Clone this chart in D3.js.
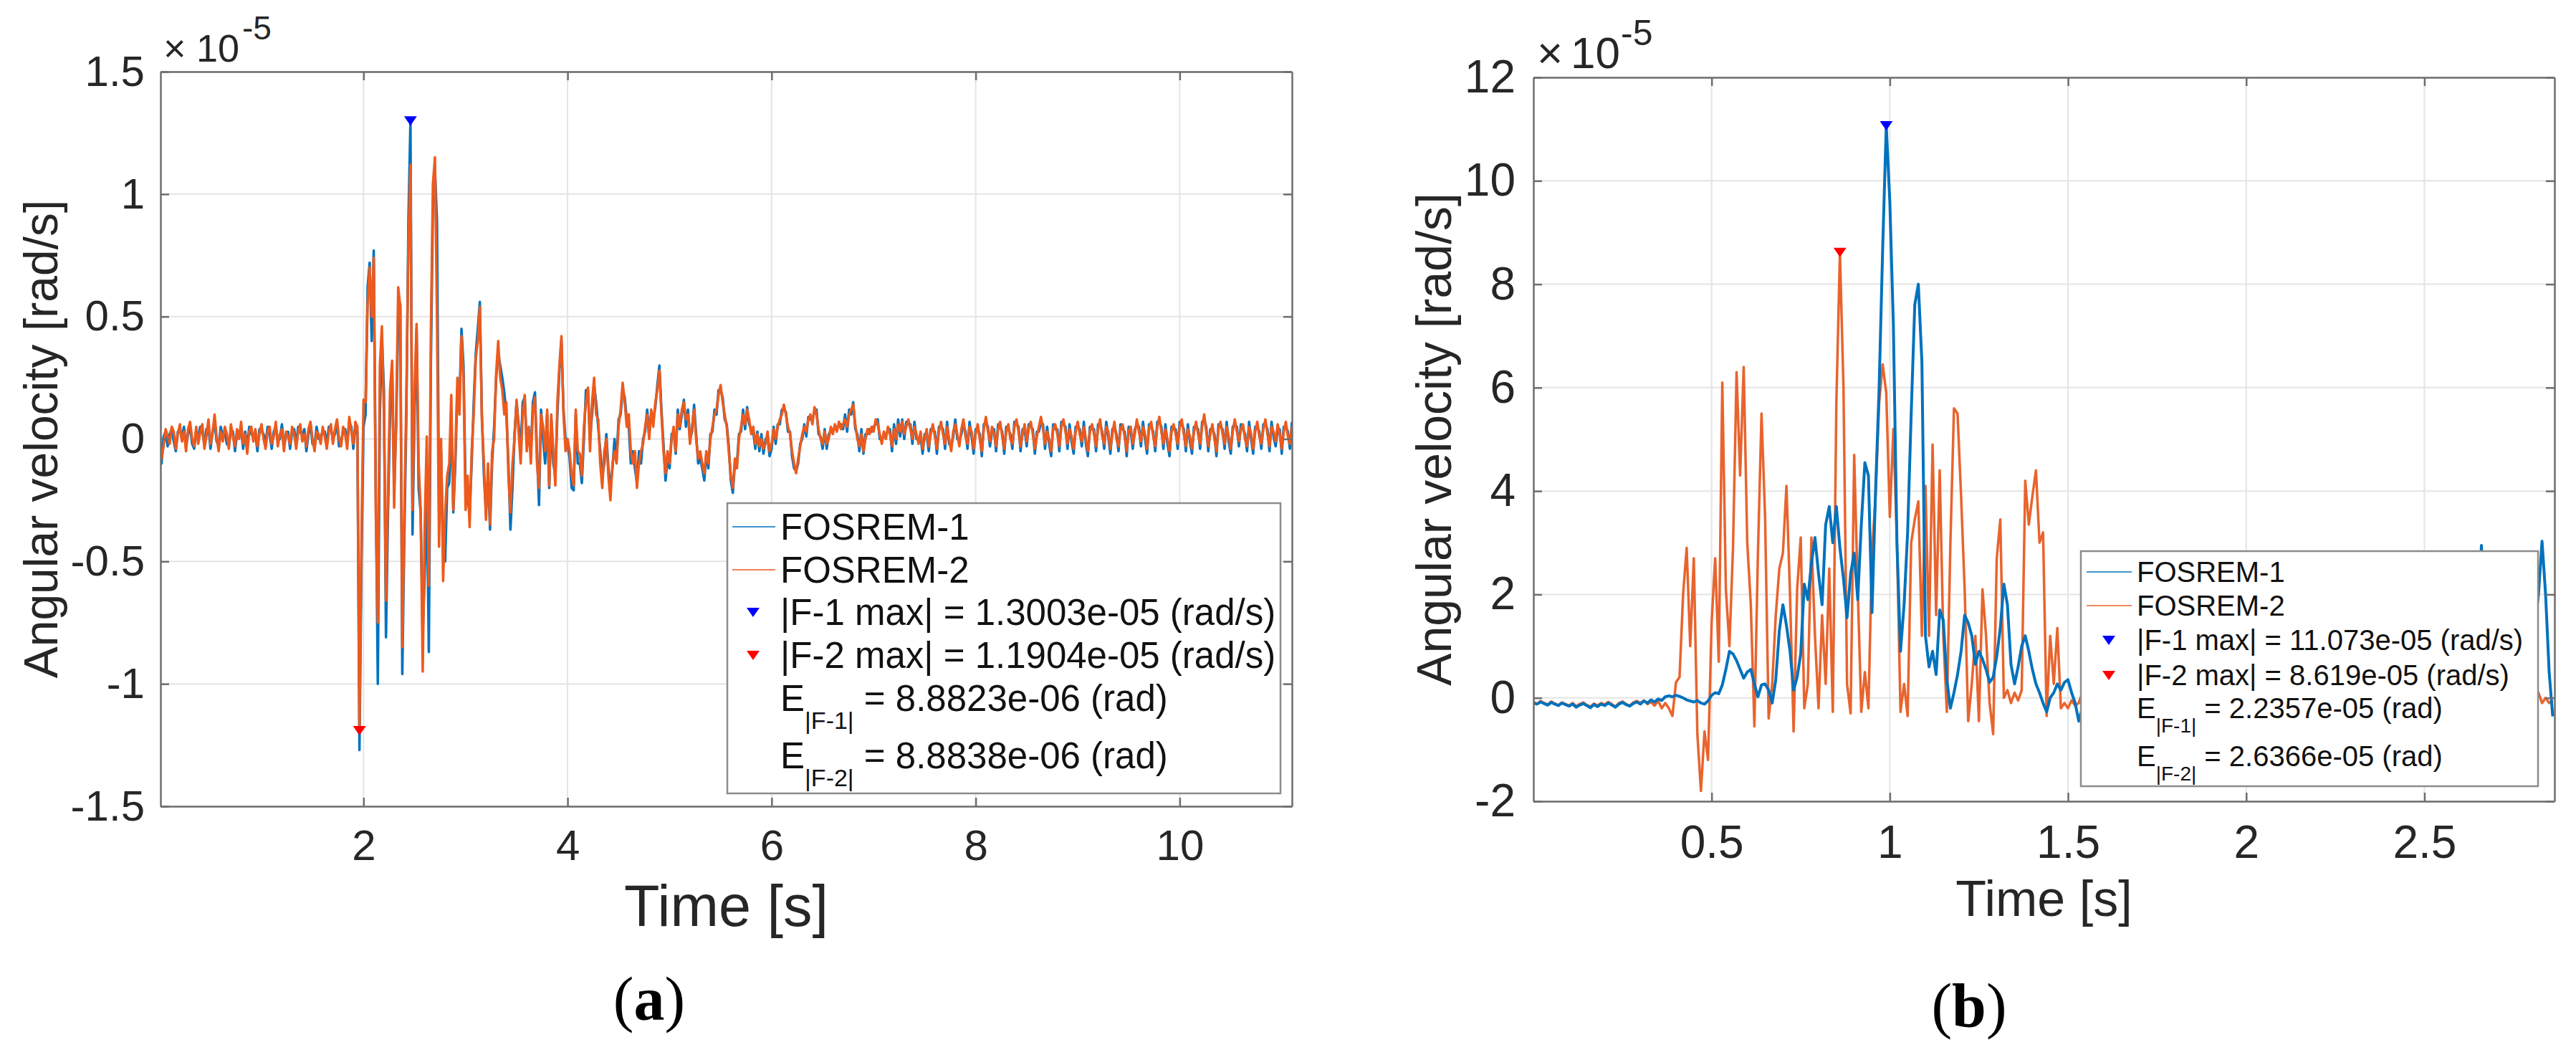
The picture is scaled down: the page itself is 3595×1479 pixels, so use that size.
<!DOCTYPE html>
<html>
<head>
<meta charset="utf-8">
<script src="https://cdn.jsdelivr.net/npm/d3@7"></script>
<style>
  html, body { margin: 0; padding: 0; background: #fff; }
  svg { display: block; font-family: "Liberation Sans", Arial, sans-serif; }
</style>
</head>
<body>
<svg id="fig" width="3595" height="1479"></svg>
<script>
// ---- digitised traces, units of 1e-5 rad/s ----
// panel (a): one sample every 0.02 s starting at t = 0
const stepA = 0.02;
const fosrem1A = [
  -0.02,-0.10,0.01,0.03,-0.03,0.02,0.04,-0.01,-0.05,0.03,
  0.04,0.00,0.05,-0.03,0.02,0.05,-0.02,-0.04,0.03,0.01,
  0.05,0.03,-0.02,0.04,0.05,-0.04,0.03,0.07,-0.01,-0.03,
  0.05,0.01,0.03,-0.02,-0.03,0.04,0.03,-0.05,0.02,0.03,
  0.04,-0.04,0.03,-0.03,0.05,0.02,0.01,0.02,-0.05,0.04,
  0.03,0.02,-0.02,0.05,0.02,-0.04,0.03,0.05,-0.01,0.00,
  0.06,-0.03,0.01,0.03,-0.04,0.03,0.04,-0.02,0.05,0.03,
  0.01,0.04,-0.05,0.02,0.06,-0.02,-0.03,0.05,0.00,0.01,
  0.03,0.03,-0.02,0.05,0.04,0.00,0.02,0.07,-0.03,-0.01,
  0.03,0.04,-0.02,0.07,0.05,-0.04,
  0.05,0.03,-1.27,-0.50,
  0.05,0.10,0.62,0.72,0.40,0.77,-0.20,-1.00,0.10,0.42,
  0.20,-0.81,-0.30,0.10,0.30,-0.20,0.05,0.50,0.55,-0.96,
  -0.40,0.10,0.90,1.30,-0.39,0.10,0.45,-0.20,-0.30,-0.80,
  -0.55,-0.20,-0.87,0.30,0.95,1.10,0.89,-0.30,-0.05,-0.45,
  -0.50,-0.20,-0.18,0.10,-0.30,-0.10,0.20,0.15,0.45,0.30,
  -0.20,-0.25,-0.30,-0.10,0.15,0.35,0.45,0.56,0.10,-0.15,
  -0.30,-0.15,-0.37,-0.10,0.05,0.25,0.35,0.30,0.25,0.19,
  0.10,-0.10,-0.37,-0.20,0.02,0.15,0.06,-0.05,0.15,0.17,
  -0.02,0.00,-0.05,0.15,0.19,-0.05,-0.27,0.12,0.00,-0.10,
  0.10,-0.20,0.08,-0.10,-0.15,0.10,0.28,0.40,0.12,0.00,
  -0.02,-0.08,-0.20,-0.21,0.10,-0.10,-0.10,-0.18,0.00,0.20,
  0.20,0.00,0.10,0.22,0.15,0.05,-0.05,-0.15,-0.10,0.02,
  -0.12,-0.20,-0.12,0.00,-0.08,0.08,0.10,0.20,0.17,0.08,
  0.05,-0.10,-0.05,-0.12,-0.18,-0.05,-0.10,0.00,0.03,0.12,
  0.02,0.10,0.08,0.13,0.22,0.30,0.12,-0.02,-0.17,-0.08,
  -0.12,0.02,0.03,-0.06,0.12,0.04,0.10,0.16,0.05,0.12,
  0.00,0.03,0.14,0.02,-0.10,-0.08,-0.12,-0.17,-0.06,-0.12,
  0.02,0.03,0.12,0.10,0.20,0.20,0.17,0.08,0.06,-0.03,
  -0.17,-0.22,-0.10,-0.10,0.02,0.03,0.12,0.04,0.13,0.06,
  0.04,0.03,-0.04,0.03,-0.05,0.02,-0.06,0.00,0.01,-0.07,
  -0.04,0.05,-0.02,0.06,0.06,0.12,0.12,0.11,0.03,0.03,
  -0.07,-0.12,-0.13,-0.10,-0.02,0.00,0.06,0.01,0.09,0.08,
  0.08,0.11,0.12,0.02,0.01,-0.04,0.04,-0.04,0.02,0.03,
  0.04,0.04,0.05,0.05,0.06,0.04,0.10,0.03,0.12,0.10,
  0.15,0.04,0.02,-0.05,0.04,-0.06,0.02,0.02,0.04,0.03,
  0.05,0.06,0.08,0.00,0.00,0.01,0.02,0.03,0.04,-0.05,
  0.06,-0.02,0.08,0.01,0.08,0.00,0.07,0.06,0.06,-0.02,
  0.07,0.00,0.00,0.01,-0.06,0.02,0.02,-0.05,0.04,0.04,
  0.03,-0.06,0.05,0.05,0.04,-0.04,0.07,-0.02,-0.03,0.01,
  0.08,0.00,-0.01,0.02,0.06,0.03,-0.04,0.07,0.01,-0.06,
  0.04,0.04,0.02,-0.07,0.06,0.07,0.05,-0.03,0.03,0.04,
  -0.05,0.06,0.05,0.03,-0.06,0.05,0.04,0.02,-0.04,0.07,
  0.06,0.05,-0.05,0.04,0.04,-0.03,0.06,0.05,0.04,-0.06,
  0.03,0.03,0.07,0.06,-0.04,0.05,-0.02,-0.07,0.06,0.04,
  0.04,-0.05,0.07,0.06,0.05,-0.04,0.06,-0.01,-0.06,0.05,
  0.05,0.04,-0.03,0.07,-0.02,-0.07,0.05,0.04,0.04,-0.05,
  0.06,0.06,0.03,-0.04,0.07,0.01,-0.06,0.04,0.05,0.02,
  -0.05,0.06,0.04,0.03,-0.07,0.05,0.03,-0.04,0.04,0.06,
  0.05,-0.03,0.07,0.00,-0.06,0.06,0.05,0.03,-0.05,0.07,
  0.07,0.05,-0.04,0.06,-0.02,-0.07,0.05,0.04,0.04,-0.04,
  0.07,0.06,0.04,-0.05,0.06,-0.01,-0.06,0.05,0.05,0.04,
  -0.04,0.07,0.08,0.05,-0.05,0.04,0.04,0.02,-0.07,0.06,
  0.05,0.04,-0.04,0.07,-0.01,-0.06,0.05,0.06,0.05,-0.03,
  0.06,0.04,0.02,-0.05,0.07,0.00,-0.06,0.05,0.05,0.03,
  -0.04,0.06,0.06,0.04,-0.05,0.07,0.01,-0.03,0.04,0.04,
  -0.06,0.05,0.05,0.03,-0.04,0.07
];
const fosrem2A = [
  0.02,-0.08,-0.03,0.04,0.01,-0.02,0.05,0.03,-0.04,0.02,
  0.06,-0.01,0.03,-0.05,0.04,0.07,0.00,-0.03,0.05,-0.02,
  0.03,0.06,-0.04,0.01,0.08,-0.02,0.02,0.10,0.01,-0.05,
  0.03,-0.01,0.05,0.02,-0.04,0.06,0.01,-0.03,0.04,0.00,
  0.07,-0.02,0.02,-0.06,0.03,0.05,-0.01,0.04,-0.03,0.02,
  0.06,0.00,-0.04,0.03,0.05,-0.02,0.01,0.07,-0.03,0.02,
  0.04,-0.05,0.03,0.01,-0.02,0.05,0.02,-0.04,0.03,0.06,
  -0.01,0.02,-0.03,0.04,0.07,0.00,-0.05,0.03,0.02,-0.02,
  0.05,0.01,-0.04,0.03,0.06,-0.02,0.04,0.08,0.00,-0.03,
  0.05,0.02,-0.04,0.09,0.03,-0.02,
  0.07,0.05,-1.19,-0.40,
  0.16,0.15,0.55,0.70,0.50,0.74,-0.30,-0.75,0.30,0.46,
  0.10,-0.66,-0.20,0.20,0.32,-0.28,0.10,0.62,0.54,-0.85,
  -0.30,0.18,0.80,1.12,-0.29,0.20,0.47,-0.10,-0.29,-0.95,
  -0.35,0.01,-0.60,0.43,1.04,1.15,0.50,-0.44,0.00,-0.58,
  -0.30,-0.15,-0.10,0.18,-0.29,-0.05,0.25,0.10,0.42,0.25,
  -0.29,-0.15,-0.36,-0.05,0.10,0.33,0.40,0.54,0.08,-0.10,
  -0.33,-0.10,-0.35,-0.05,0.00,0.27,0.40,0.25,0.20,0.10,
  0.15,-0.15,-0.30,-0.10,0.00,0.16,0.03,-0.10,0.10,0.18,
  -0.05,0.05,-0.10,0.12,0.17,-0.10,-0.20,0.10,0.05,-0.05,
  0.12,-0.19,0.10,-0.05,-0.19,0.15,0.30,0.42,0.10,-0.05,
  0.00,-0.05,-0.15,-0.19,0.12,-0.05,-0.06,-0.15,0.05,0.15,
  0.21,-0.05,0.15,0.25,0.10,0.08,-0.10,-0.20,-0.05,0.00,
  -0.15,-0.25,-0.10,-0.05,-0.10,0.05,0.12,0.23,0.15,0.05,
  0.10,-0.05,-0.10,-0.05,-0.20,-0.10,-0.05,-0.02,0.05,0.10,
  0.00,0.12,0.05,0.15,0.20,0.28,0.10,-0.05,-0.14,-0.05,
  -0.10,0.00,0.05,-0.05,0.10,0.05,0.12,0.15,0.08,0.10,
  -0.02,0.05,0.12,0.00,-0.08,-0.05,-0.10,-0.14,-0.05,-0.10,
  0.00,0.05,0.10,0.12,0.18,0.22,0.15,0.10,0.05,-0.05,
  -0.15,-0.20,-0.08,-0.12,0.00,0.05,0.10,0.06,0.12,0.08,
  0.02,0.05,-0.02,0.02,-0.03,0.00,-0.04,-0.02,0.03,-0.05,
  -0.02,0.04,0.00,0.05,0.08,0.10,0.14,0.10,0.05,0.02,
  -0.05,-0.10,-0.14,-0.08,-0.03,0.02,0.05,0.03,0.08,0.10,
  0.06,0.13,0.10,0.04,0.00,-0.02,0.03,-0.02,0.00,0.05,
  0.02,0.06,0.03,0.07,0.04,0.06,0.08,0.05,0.10,0.12,
  0.14,0.06,0.00,-0.03,0.02,-0.05,0.00,0.04,0.02,0.05,
  0.03,0.08,0.06,0.02,-0.02,0.03,0.00,0.05,0.02,-0.03,
  0.04,0.00,0.06,0.03,0.07,0.02,0.05,0.08,0.04,0.00,
  0.05,0.02,-0.02,0.03,-0.04,0.00,0.04,-0.03,0.02,0.06,
  0.01,-0.04,0.03,0.07,0.02,-0.02,0.05,0.00,-0.05,0.03,
  0.06,0.02,-0.03,0.04,0.08,0.01,-0.02,0.05,0.03,-0.04,
  0.02,0.06,0.00,-0.05,0.04,0.09,0.03,-0.01,0.05,0.02,
  -0.03,0.04,0.07,0.01,-0.04,0.03,0.06,0.00,-0.02,0.05,
  0.08,0.03,-0.03,0.02,0.06,-0.01,0.04,0.07,0.02,-0.04,
  0.01,0.05,0.09,0.04,-0.02,0.03,0.00,-0.05,0.04,0.06,
  0.02,-0.03,0.05,0.08,0.03,-0.02,0.04,0.01,-0.04,0.03,
  0.07,0.02,-0.01,0.05,0.00,-0.05,0.03,0.06,0.02,-0.03,
  0.04,0.08,0.01,-0.02,0.05,0.03,-0.04,0.02,0.07,0.00,
  -0.03,0.04,0.06,0.01,-0.05,0.03,0.05,-0.02,0.02,0.08,
  0.03,-0.01,0.05,0.02,-0.04,0.04,0.07,0.01,-0.03,0.05,
  0.09,0.03,-0.02,0.04,0.00,-0.05,0.03,0.06,0.02,-0.02,
  0.05,0.08,0.02,-0.03,0.04,0.01,-0.04,0.03,0.07,0.02,
  -0.02,0.05,0.10,0.03,-0.03,0.02,0.06,0.00,-0.05,0.04,
  0.07,0.02,-0.02,0.05,0.01,-0.04,0.03,0.08,0.03,-0.01,
  0.04,0.06,0.00,-0.03,0.05,0.02,-0.04,0.03,0.07,0.01,
  -0.02,0.04,0.08,0.02,-0.03,0.05,0.03,-0.01,0.06,0.02,
  -0.04,0.03,0.07,0.01,-0.02,0.05
];

// panel (b): one sample every 0.01 s starting at t = 0
const stepB = 0.01;
const fosrem1B = [
  -0.10,-0.12,-0.08,-0.11,-0.14,-0.09,-0.12,-0.15,-0.10,-0.13,
  -0.16,-0.12,-0.18,-0.14,-0.11,-0.15,-0.19,-0.13,-0.17,-0.12,
  -0.15,-0.10,-0.14,-0.18,-0.12,-0.09,-0.13,-0.16,-0.11,-0.08,
  -0.12,-0.06,-0.10,-0.04,-0.08,-0.02,-0.05,0.02,0.04,0.02,
  0.05,0.03,0.00,-0.04,-0.06,-0.08,-0.05,-0.10,-0.12,-0.06,
  0.05,0.10,0.08,0.25,0.55,0.90,0.85,0.72,0.55,0.38,
  0.50,0.55,0.27,0.02,0.25,0.27,0.15,-0.10,0.35,1.30,
  1.80,1.40,0.90,0.15,0.40,0.85,2.20,1.90,2.60,3.10,
  2.40,1.80,3.35,3.70,3.00,3.70,2.90,2.30,1.55,2.40,
  2.80,1.90,3.35,4.55,4.30,1.65,4.00,6.00,8.70,11.07,
  9.60,7.20,3.00,0.90,1.80,3.20,5.50,7.60,8.00,6.50,
  1.20,0.60,0.90,0.45,1.70,1.50,0.35,-0.20,0.10,0.45,
  0.90,1.60,1.45,1.20,0.65,0.90,0.75,0.55,0.30,0.40,
  0.80,1.35,2.20,1.80,0.65,0.27,0.60,1.00,1.20,0.90,
  0.55,0.27,0.10,-0.10,-0.27,0.00,0.10,0.27,0.15,0.30,
  0.35,0.10,-0.10,-0.45,-0.20,0.10,0.30,0.20,0.45,0.35,
  0.60,0.40,0.25,0.50,0.70,0.45,0.30,0.55,0.80,0.60,
  0.40,0.20,0.35,0.50,0.30,0.15,0.25,0.40,0.20,0.10,
  0.30,0.45,0.25,0.35,0.55,0.40,0.20,0.30,0.15,0.25,
  0.40,0.30,0.10,0.20,0.35,0.25,0.10,0.20,0.30,0.15,
  0.05,0.20,0.30,0.15,0.25,0.10,0.20,0.35,0.20,0.10,
  0.15,0.30,0.20,0.05,0.15,0.25,0.10,0.20,0.30,0.15,
  0.25,0.40,0.20,0.10,0.30,0.50,0.35,0.20,0.40,0.60,
  0.45,0.30,0.55,0.40,0.25,0.45,0.60,0.35,0.20,0.40,
  0.55,0.30,0.45,0.70,0.50,0.35,0.60,0.80,0.55,0.40,
  0.65,0.90,0.60,0.45,0.75,1.00,0.70,0.50,0.80,1.10,
  0.85,0.60,0.90,1.20,0.80,1.50,2.95,1.20,0.70,0.90,
  0.60,0.40,0.70,0.50,0.30,0.60,0.80,0.50,0.35,0.60,
  0.90,1.40,2.00,3.03,2.00,0.50,-0.36
];
const fosrem2B = [
  -0.08,-0.12,-0.06,-0.10,-0.13,-0.07,-0.11,-0.14,-0.09,-0.12,
  -0.15,-0.10,-0.16,-0.12,-0.09,-0.14,-0.17,-0.11,-0.15,-0.10,
  -0.13,-0.08,-0.12,-0.17,-0.10,-0.07,-0.12,-0.15,-0.09,-0.06,
  -0.10,-0.05,-0.12,-0.08,-0.15,-0.06,-0.20,-0.10,
  -0.20,-0.35,0.30,0.40,2.00,2.90,1.00,2.70,-0.70,-1.80,
  -0.65,-1.20,1.45,2.70,0.70,6.10,2.10,1.00,2.90,6.30,
  4.30,6.40,3.00,1.80,-0.55,2.80,5.50,3.50,-0.40,0.27,
  1.60,2.50,2.80,4.10,2.00,-0.65,2.10,3.10,-0.20,0.27,
  3.10,1.20,-0.20,1.60,0.27,2.50,-0.27,5.70,8.62,6.00,
  0.27,-0.30,4.70,2.10,-0.27,0.50,-0.20,2.80,3.90,5.70,
  6.45,5.90,3.50,5.20,3.00,-0.27,0.27,-0.35,3.00,3.45,
  3.80,1.20,4.10,1.20,4.90,1.60,4.40,1.20,-0.27,3.00,
  5.60,5.50,3.90,2.10,-0.45,0.27,1.20,-0.45,2.10,1.20,
  -0.10,-0.70,2.70,3.45,0.00,0.15,-0.10,0.10,-0.05,0.15,
  4.20,3.35,3.90,4.40,3.00,3.20,-0.35,1.20,0.27,1.35,
  -0.20,-0.10,-0.20,-0.05,-0.15,-0.10,
  0.10,-0.20,0.30,-0.10,0.20,-0.30,0.10,0.40,-0.20,0.00,
  0.30,-0.10,0.20,0.50,-0.20,0.10,0.30,-0.30,0.20,0.00,
  -0.20,0.20,0.40,-0.10,0.10,-0.30,0.20,0.30,-0.10,0.10,
  0.00,-0.20,0.30,0.10,-0.10,0.20,-0.30,0.10,0.40,0.00,
  -0.20,0.10,0.30,-0.10,0.20,0.00,-0.30,0.20,0.10,-0.10,
  0.30,0.00,-0.20,0.10,0.20,-0.10,0.30,-0.20,0.10,0.00,
  -0.10,0.20,0.00,-0.30,0.10,0.30,-0.10,0.20,0.00,-0.20,
  0.10,0.30,-0.10,0.00,0.20,-0.20,0.10,0.30,-0.10,0.00,
  -0.20,0.10,0.20,-0.10,0.30,0.00,-0.20,0.10,0.20,-0.10,
  0.00,0.20,-0.20,0.10,0.30,-0.10,0.00,0.20,-0.30,0.10,
  0.20,-0.10,0.00,0.30,-0.20,0.10,0.00,-0.10,0.20,0.10,
  -0.20,0.00,0.30,-0.10,0.10,0.20,-0.20,0.00,0.10,-0.10,
  0.20,0.00,-0.10,0.10,0.30,-0.10,0.00,0.20,0.10,-0.10,
  0.00,-0.10,-0.05
];

// ticks and legend texts
const xTicksA = [2, 4, 6, 8, 10];
const yTicksA = [-1.5, -1, -0.5, 0, 0.5, 1, 1.5];
const xTicksB = [0.5, 1, 1.5, 2, 2.5];
const yTicksB = [-2, 0, 2, 4, 6, 8, 10, 12];
const seriesNames = ["FOSREM-1", "FOSREM-2"];
const maxTextA = ["|F-1 max| = 1.3003e-05 (rad/s)", "|F-2 max| = 1.1904e-05 (rad/s)"];
const energyA = [["|F-1|", " = 8.8823e-06 (rad)"], ["|F-2|", " = 8.8838e-06 (rad)"]];
const maxTextB = ["|F-1 max| = 11.073e-05 (rad/s)", "|F-2 max| = 8.619e-05 (rad/s)"];
const energyB = [["|F-1|", " = 2.2357e-05 (rad)"], ["|F-2|", " = 2.6366e-05 (rad)"]];

const BLUE = "#0072BD", ORANGE = "#EE5A1C", ORANGE_B = "#E8642E";
const TEXT = "#262626", AXIS = "#6e6e6e", GRID = "#e4e4e4";

const svg = d3.select("#fig");

function drawPanel(p) {
  const x = d3.scaleLinear().domain(p.xDomain).range([p.left, p.right]);
  const y = d3.scaleLinear().domain(p.yDomain).range([p.bottom, p.top]);
  const g = svg.append("g");

  // grid
  g.append("g").selectAll("line").data(p.xTicks).enter().append("line")
    .attr("x1", d => x(d)).attr("x2", d => x(d))
    .attr("y1", p.top).attr("y2", p.bottom)
    .attr("stroke", GRID).attr("stroke-width", 2);
  g.append("g").selectAll("line").data(p.yTicks).enter().append("line")
    .attr("x1", p.left).attr("x2", p.right)
    .attr("y1", d => y(d)).attr("y2", d => y(d))
    .attr("stroke", GRID).attr("stroke-width", 2);

  // traces
  const clipId = "clip-" + p.id;
  svg.append("clipPath").attr("id", clipId).append("rect")
    .attr("x", p.left).attr("y", p.top)
    .attr("width", p.right - p.left).attr("height", p.bottom - p.top);
  const traces = g.append("g").attr("clip-path", "url(#" + clipId + ")");
  p.series.forEach(s => {
    const line = d3.line()
      .x((v, i) => x(i * s.step))
      .y(v => y(v));
    traces.append("path")
      .datum(s.values)
      .attr("d", line)
      .attr("fill", "none")
      .attr("stroke", s.color)
      .attr("stroke-width", s.width)
      .attr("stroke-linejoin", "round");
  });

  // peak markers (largest absolute value of each trace)
  const tri = "M-9,-6L9,-6L0,7Z";
  p.series.forEach(s => {
    const k = d3.maxIndex(s.values, v => Math.abs(v));
    g.append("path").attr("d", tri)
      .attr("transform", "translate(" + x(k * s.step) + "," + y(s.values[k]) + ")")
      .attr("fill", s.marker);
  });

  // axes on four sides, ticks pointing inwards
  const styleAxis = sel => {
    sel.selectAll("path.domain").attr("stroke", AXIS).attr("stroke-width", 2.5);
    sel.selectAll(".tick line").attr("stroke", AXIS).attr("stroke-width", 2.5);
    sel.selectAll("text").attr("fill", TEXT)
      .style("font-family", "'Liberation Sans', Arial, sans-serif")
      .style("font-size", p.tickFont + "px");
  };
  g.append("g").attr("transform", "translate(0," + p.bottom + ")")
    .call(d3.axisBottom(x).tickValues(p.xTicks).tickFormat(d => String(d))
      .tickSizeInner(-12).tickSizeOuter(0).tickPadding(p.xPad))
    .call(styleAxis);
  g.append("g").attr("transform", "translate(0," + p.top + ")")
    .call(d3.axisTop(x).tickValues(p.xTicks).tickFormat("")
      .tickSizeInner(-12).tickSizeOuter(0))
    .call(styleAxis);
  g.append("g").attr("transform", "translate(" + p.left + ",0)")
    .call(d3.axisLeft(y).tickValues(p.yTicks).tickFormat(d => String(d))
      .tickSizeInner(-12).tickSizeOuter(0).tickPadding(p.yPad))
    .call(styleAxis);
  g.append("g").attr("transform", "translate(" + p.right + ",0)")
    .call(d3.axisRight(y).tickValues(p.yTicks).tickFormat("")
      .tickSizeInner(-12).tickSizeOuter(0))
    .call(styleAxis);
  g.selectAll(".domain").attr("fill", "none");

  // exponent
  const ex = g.append("text").attr("fill", TEXT).attr("y", p.exp.base);
  ex.append("tspan").attr("x", p.exp.x0).style("font-size", p.exp.f1 + "px").text("\u00d7");
  ex.append("tspan").attr("x", p.exp.x1).style("font-size", p.exp.f1 + "px").text("10");
  ex.append("tspan").attr("x", p.exp.x2).attr("y", p.exp.supBase)
    .style("font-size", p.exp.f2 + "px").text("-5");

  // axis titles
  g.append("text").attr("x", (p.left + p.right) / 2).attr("y", p.xLabel.base)
    .attr("text-anchor", "middle").attr("fill", TEXT)
    .style("font-size", p.xLabel.size + "px").text("Time [s]");
  g.append("text")
    .attr("transform", "translate(" + p.yLabel.base + "," + (p.top + p.bottom) / 2 + ") rotate(-90)")
    .attr("text-anchor", "middle").attr("fill", TEXT)
    .style("font-size", p.yLabel.size + "px").text("Angular velocity [rad/s]");

  // legend
  const L = p.legend;
  const lg = g.append("g");
  lg.append("rect").attr("x", L.x0).attr("y", L.y0)
    .attr("width", L.x1 - L.x0).attr("height", L.y1 - L.y0)
    .attr("fill", "#fff").attr("stroke", "#8c8c8c").attr("stroke-width", 2.5);
  const rowText = (i, str) => lg.append("text")
    .attr("x", L.textX).attr("y", L.rows[i] + 0.36 * L.font)
    .attr("fill", "#111").style("font-size", L.font + "px").text(str);
  [BLUE, p.series.find(s => s.name === "FOSREM-2").color].forEach((c, i) => {
    lg.append("line").attr("x1", L.lineX[0]).attr("x2", L.lineX[1])
      .attr("y1", L.rows[i]).attr("y2", L.rows[i])
      .attr("stroke", c).attr("stroke-width", 2).attr("stroke-opacity", 0.75);
    rowText(i, seriesNames[i]);
  });
  ["#0000ff", "#ff0000"].forEach((c, i) => {
    lg.append("path").attr("d", tri)
      .attr("transform", "translate(" + L.markX + "," + L.rows[i + 2] + ")")
      .attr("fill", c);
    rowText(i + 2, p.maxText[i]);
  });
  p.energy.forEach((e, i) => {
    const t = rowText(i + 4, "E");
    t.append("tspan").attr("dy", L.subDy).style("font-size", L.subFont + "px").text(e[0]);
    t.append("tspan").attr("dy", -L.subDy).style("font-size", L.font + "px").text(e[1]);
  });

  // panel letter
  const pl = g.append("text").attr("x", p.tag.x).attr("y", p.tag.base)
    .attr("text-anchor", "middle").attr("fill", "#000")
    .style("font-family", "'Liberation Serif', 'Times New Roman', serif")
    .style("font-size", p.tag.size + "px");
  pl.append("tspan").text("(");
  pl.append("tspan").style("font-weight", "bold").text(p.tag.letter);
  pl.append("tspan").text(")");
}

drawPanel({
  id: "a", left: 224, right: 1803, top: 100, bottom: 1125,
  xDomain: [0.01, 11.1], yDomain: [-1.5, 1.5],
  xTicks: xTicksA, yTicks: yTicksA,
  tickFont: 60, xPad: 32, yPad: 22,
  series: [
    { name: "FOSREM-1", values: fosrem1A, step: stepA, color: BLUE, width: 3.5, marker: "#0000ff" },
    { name: "FOSREM-2", values: fosrem2A, step: stepA, color: ORANGE, width: 3.5, marker: "#ff0000" }
  ],
  exp: { x0: 228, x1: 274, x2: 338, base: 86, supBase: 55, f1: 54, f2: 46 },
  xLabel: { base: 1292, size: 81 },
  yLabel: { base: 80, size: 66 },
  legend: { x0: 1015, y0: 702, x1: 1787, y1: 1107, font: 51, subFont: 34, subDy: 25,
            rows: [735, 795, 854, 914, 974, 1054], lineX: [1022, 1082], markX: 1051, textX: 1089 },
  maxText: maxTextA, energy: energyA,
  tag: { x: 906, base: 1423, size: 86, letter: "a" }
});

drawPanel({
  id: "b", left: 2140, right: 3565, top: 108, bottom: 1118,
  xDomain: [0, 2.865], yDomain: [-2, 12],
  xTicks: xTicksB, yTicks: yTicksB,
  tickFont: 64, xPad: 34, yPad: 25,
  series: [
    { name: "FOSREM-2", values: fosrem2B, step: stepB, color: ORANGE_B, width: 3.5, marker: "#ff0000" },
    { name: "FOSREM-1", values: fosrem1B, step: stepB, color: BLUE, width: 4, marker: "#0000ff" }
  ],
  exp: { x0: 2145, x1: 2192, x2: 2262, base: 95, supBase: 63, f1: 62, f2: 50 },
  xLabel: { base: 1278, size: 70 },
  yLabel: { base: 2025, size: 68 },
  legend: { x0: 2904, y0: 769, x1: 3542, y1: 1097, font: 40, subFont: 28, subDy: 20,
            rows: [798, 845, 893, 942, 988, 1055], lineX: [2912, 2975], markX: 2943, textX: 2982 },
  maxText: maxTextB, energy: energyB,
  tag: { x: 2748, base: 1432, size: 86, letter: "b" }
});
</script>
</body>
</html>
